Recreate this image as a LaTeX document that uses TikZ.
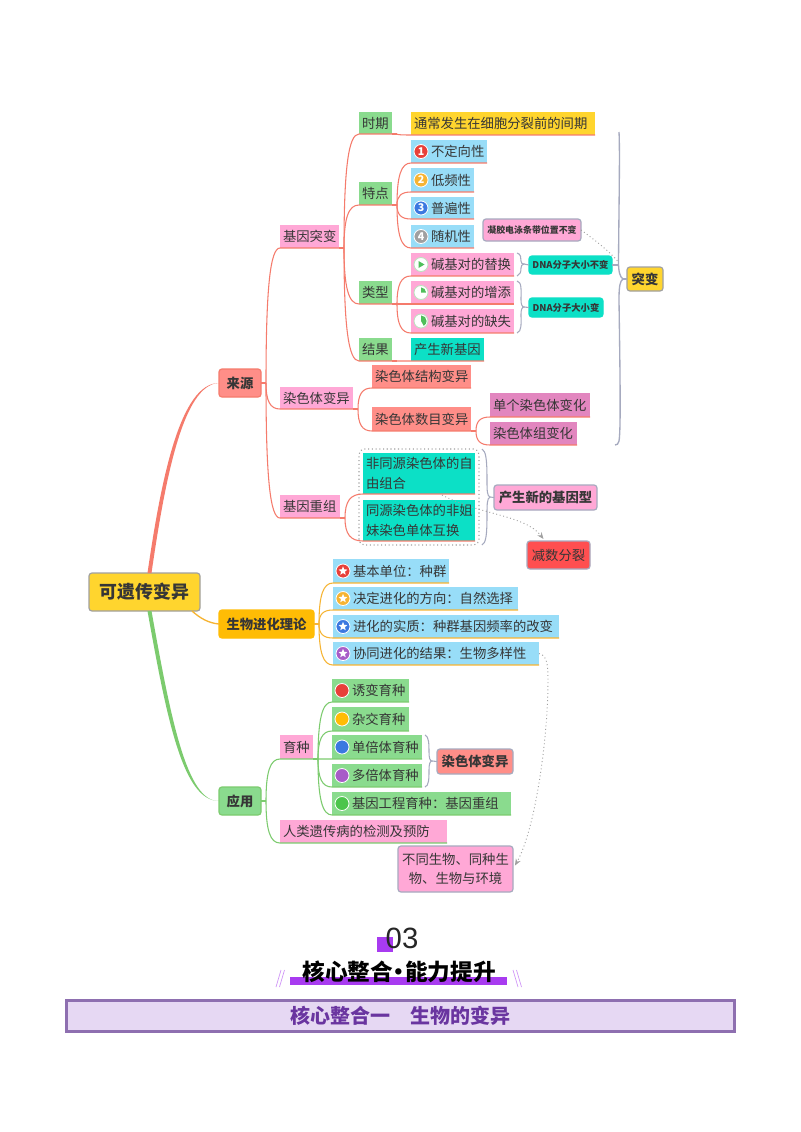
\documentclass[tikz,border=0pt]{standalone}
\usepackage{fontspec}
\setmainfont{Noto Sans CJK SC}
\newfontfamily\numfont{Liberation Sans}
\usetikzlibrary{calc,shapes.geometric,arrows.meta}
\definecolor{cPink}{HTML}{FFA8D6}
\definecolor{cGreen}{HTML}{8ADB8E}
\definecolor{cBlue}{HTML}{98DDF8}
\definecolor{cTeal}{HTML}{0CE0C6}
\definecolor{cSalmon}{HTML}{FF8E88}
\definecolor{cYellow}{HTML}{FFD52E}
\definecolor{cOrange}{HTML}{FFBC05}
\definecolor{cMag}{HTML}{E286BF}
\definecolor{cRed}{HTML}{FF4F50}
\definecolor{cLineR}{HTML}{F57B6C}
\definecolor{cLineO}{HTML}{F6B433}
\definecolor{cLineG}{HTML}{7CCB6E}
\definecolor{cBr}{HTML}{A6AABF}
\definecolor{cGray}{HTML}{A0A0A0}
\definecolor{cPurple}{HTML}{A83BF0}
\definecolor{cTxt}{HTML}{363636}
\definecolor{iRed}{HTML}{E8403A}
\definecolor{iBlue}{HTML}{3B78E0}
\definecolor{iViolet}{HTML}{A85CC8}
\definecolor{iGreen}{HTML}{4CC54C}
\definecolor{iPie}{HTML}{4FBF5A}
\definecolor{fFill}{HTML}{E6D8F3}
\definecolor{fLine}{HTML}{8E6FB0}
\definecolor{fText}{HTML}{6A35A0}
\tikzset{
 x=0.75pt,y=-0.75pt,
 base/.style={anchor=north west,inner ysep=0pt,inner xsep=2.3pt,outer sep=0pt,align=left,text=cTxt,
   font=\fontsize{10}{14.6}\selectfont},
 rbox/.style={rounded corners=2.2pt,align=center},
 gbox/.style={rbox,draw=#1,line width=0.9pt},
 conn/.style={line width=0.8pt},
 brk/.style={draw=cBr,line width=0.8pt},
 rel/.style={draw=cGray,line width=0.7pt,dotted},
 icn/.style={circle,draw=white,line width=0.6pt,minimum size=10.5pt,inner sep=0pt,outer sep=0pt},
 whitestar/.style={star,star points=5,star point ratio=2.3,fill=white,minimum size=7pt,inner sep=0pt},
}
\newcommand\bx[7]{%
 \pgfmathsetlengthmacro\tw{(#5-#3)*0.75-4.6}%
 \pgfmathsetlengthmacro\bh{(#6-#4)*0.75}%
 \node[base,text width=\tw,minimum height=\bh,#1] (#2) at (#3,#4) {#7};}
\newcommand\lnk[3]{%
 \draw[conn,#3] (#1) -- ++(5,0) coordinate (J);
 \coordinate (Jt) at (#2.south west);
 \coordinate (Ca) at ($(J)!0.7!(Jt)$);
 \coordinate (Cb) at ($(J)!0.3!(Jt)$);
 \draw[conn,#3] (J) .. controls (J |- Ca) and (Cb |- Jt) .. (Jt) -- (#2.south east);}
\newcommand\ic{\hspace*{12.7pt}}
\newcommand\numic[3]{\node[icn,fill=#2,text=white,font=\fontsize{8}{8}\bfseries\selectfont] (#1i) at ($(#1.west)+(10,0)$) {#3};}
\newcommand\staric[2]{\node[icn,fill=#2] (#1i) at ($(#1.west)+(10,0)$) {}; \node[whitestar] at (#1i) {};}
\newcommand\dotic[2]{\node[icn,fill=#2] (#1i) at ($(#1.west)+(10,0)$) {};}
\begin{document}
\begin{tikzpicture}
\useasboundingbox (0,0) rectangle (800,1132);
\fill[white] (0,0) rectangle (800,1132);
% dotted frame
\node[draw=cGray,line width=0.8pt,dotted,rounded corners=4pt,anchor=north west,inner sep=0pt,outer sep=0pt,minimum width=90pt,minimum height=72pt] (dotbox) at (359,449) {};
% root and first level
\bx{gbox=cGray,fill=cYellow,font=\fontsize{13.4}{16}\bfseries\selectfont}{root}{89}{573}{200}{611}{可遗传变异}
\bx{gbox=cLineR,fill=cSalmon,font=\fontsize{10}{12}\bfseries\selectfont}{ly}{219}{369}{261}{397}{来源}
\bx{gbox=cOrange,fill=cOrange,font=\fontsize{10}{12}\bfseries\selectfont}{jh}{219}{610}{314}{638}{生物进化理论}
\bx{gbox=cLineG,fill=cGreen,font=\fontsize{10}{12}\bfseries\selectfont}{yy}{219}{787}{261}{815}{应用}
% source branch
\bx{fill=cPink}{jb}{280}{225}{339}{248}{基因突变}
\bx{fill=cPink}{rs}{280}{387}{353}{409}{染色体变异}
\bx{fill=cPink}{cz}{280}{495}{340}{518}{基因重组}
\bx{fill=cGreen}{sq}{359}{112}{392}{134}{时期}
\bx{fill=cGreen}{td}{359}{182}{392}{205}{特点}
\bx{fill=cGreen}{lx}{359}{281}{392}{304}{类型}
\bx{fill=cGreen}{jg}{359}{338}{392}{361}{结果}
\bx{fill=cYellow}{tc}{411}{112}{595}{135}{通常发生在细胞分裂前的间期}
\bx{fill=cBlue}{t1}{411}{140}{487}{163}{\ic 不定向性}
\bx{fill=cBlue}{t2}{411}{168}{474}{192}{\ic 低频性}
\bx{fill=cBlue}{t3}{411}{197}{474}{219}{\ic 普遍性}
\bx{fill=cBlue}{t4}{411}{225}{474}{248}{\ic 随机性}
\bx{fill=cPink}{x1}{411}{253}{514}{276}{\ic 碱基对的替换}
\bx{fill=cPink}{x2}{411}{281}{514}{304}{\ic 碱基对的增添}
\bx{fill=cPink}{x3}{411}{309}{514}{333}{\ic 碱基对的缺失}
\bx{fill=cTeal}{cs}{411}{338}{484}{361}{产生新基因}
\bx{gbox=cBr,fill=cPink,font=\fontsize{6.7}{8}\bfseries\selectfont}{nj}{483}{219}{581}{241}{凝胶电泳条带位置不变}
\bx{gbox=cTeal,fill=cTeal,font=\fontsize{7}{9}\bfseries\selectfont}{d1}{529}{256}{612}{274}{DNA分子大小不变}
\bx{gbox=cTeal,fill=cTeal,font=\fontsize{7}{9}\bfseries\selectfont}{d2}{529}{298}{603}{317}{DNA分子大小变}
\bx{gbox=cGray,fill=cYellow,font=\fontsize{10}{12}\bfseries\selectfont}{tb}{627}{267}{663}{291}{突变}
\bx{fill=cSalmon}{r1}{372}{365}{471}{388}{染色体结构变异}
\bx{fill=cSalmon}{r2}{372}{407}{471}{431}{染色体数目变异}
\bx{fill=cMag}{m1}{490}{393}{590}{417}{单个染色体变化}
\bx{fill=cMag}{m2}{490}{422}{577}{445}{染色体组变化}
\bx{fill=cTeal}{c1}{363}{453}{475}{494}{非同源染色体的自\\由组合}
\bx{fill=cTeal}{c2}{363}{500}{475}{541}{同源染色体的非姐\\妹染色单体互换}
\bx{gbox=cBr,fill=cPink,font=\fontsize{10}{12}\bfseries\selectfont}{xj}{494}{485}{597}{510}{产生新的基因型}
\bx{gbox=cBr,fill=cRed}{js}{527}{541}{590}{569}{减数分裂}
% evolution branch
\bx{fill=cBlue}{e1}{333}{559}{449}{583}{\ic 基本单位：种群}
\bx{fill=cBlue}{e2}{333}{587}{518}{610}{\ic 决定进化的方向：自然选择}
\bx{fill=cBlue}{e3}{333}{615}{559}{638}{\ic 进化的实质：种群基因频率的改变}
\bx{fill=cBlue}{e4}{333}{642}{539}{665}{\ic 协同进化的结果：生物多样性}
% application branch
\bx{fill=cPink}{yz}{280}{735}{313}{759}{育种}
\bx{fill=cPink}{rl}{280}{820}{447}{843}{人类遗传病的检测及预防}
\bx{fill=cGreen}{y1}{332}{679}{409}{702}{\ic 诱变育种}
\bx{fill=cGreen}{y2}{332}{707}{409}{731}{\ic 杂交育种}
\bx{fill=cGreen}{y3}{332}{735}{422}{759}{\ic 单倍体育种}
\bx{fill=cGreen}{y4}{332}{764}{422}{787}{\ic 多倍体育种}
\bx{fill=cGreen}{y5}{332}{792}{511}{815}{\ic 基因工程育种：基因重组}
\bx{gbox=cBr,fill=cSalmon,font=\fontsize{10}{12}\bfseries\selectfont}{rb}{437}{749}{513}{774}{染色体变异}
\bx{gbox=cBr,fill=cPink}{bt}{398}{846}{513}{892}{不同生物、同种生\\物、生物与环境}
% root connectors
\fill[cLineR] ($(root.north)+(3,0)$) .. controls (161,480) and (180,383) .. (ly.west) .. controls (183,384) and (165,480) .. ($(root.north)+(7,0)$) -- cycle;
\draw[cLineO,line width=1pt] ($(root.south east)+(-8,0)$) .. controls (200,618) and (208,623) .. (jh.west);
\fill[cLineG] ($(root.south)+(3,0)$) .. controls (167,720) and (183,801) .. (yy.west) .. controls (187,802) and (171,720) .. ($(root.south)+(7,0)$) -- cycle;
% mind map branches
\lnk{ly.east}{jb}{cLineR}
\lnk{ly.east}{rs}{cLineR}
\lnk{ly.east}{cz}{cLineR}
\lnk{jb.south east}{sq}{cLineR}
\lnk{jb.south east}{td}{cLineR}
\lnk{jb.south east}{lx}{cLineR}
\lnk{jb.south east}{jg}{cLineR}
\lnk{sq.south east}{tc}{cLineR}
\lnk{td.south east}{t1}{cLineR}
\lnk{td.south east}{t2}{cLineR}
\lnk{td.south east}{t3}{cLineR}
\lnk{td.south east}{t4}{cLineR}
\lnk{lx.south east}{x1}{cLineR}
\lnk{lx.south east}{x2}{cLineR}
\lnk{lx.south east}{x3}{cLineR}
\lnk{jg.south east}{cs}{cLineR}
\lnk{rs.south east}{r1}{cLineR}
\lnk{rs.south east}{r2}{cLineR}
\lnk{r2.south east}{m1}{cLineR}
\lnk{r2.south east}{m2}{cLineR}
\lnk{cz.south east}{c1}{cLineR}
\lnk{cz.south east}{c2}{cLineR}
\lnk{jh.east}{e1}{cLineO}
\lnk{jh.east}{e2}{cLineO}
\lnk{jh.east}{e3}{cLineO}
\lnk{jh.east}{e4}{cLineO}
\lnk{yy.east}{yz}{cLineG}
\lnk{yy.east}{rl}{cLineG}
\lnk{yz.south east}{y1}{cLineG}
\lnk{yz.south east}{y2}{cLineG}
\lnk{yz.south east}{y3}{cLineG}
\lnk{yz.south east}{y4}{cLineG}
\lnk{yz.south east}{y5}{cLineG}
% icons
\numic{t1}{iRed}{1}
\numic{t2}{cLineO}{2}
\numic{t3}{iBlue}{3}
\numic{t4}{cGray}{4}
\staric{e1}{iRed}
\staric{e2}{cLineO}
\staric{e3}{iBlue}
\staric{e4}{iViolet}
\dotic{y1}{iRed}
\dotic{y2}{cOrange}
\dotic{y3}{iBlue}
\dotic{y4}{iViolet}
\dotic{y5}{iGreen}
\foreach \n in {x1,x2,x3}{\node[circle,draw=iPie!40,line width=0.6pt,fill=white,minimum size=10.5pt,inner sep=0pt,outer sep=0pt] (\n i) at ($(\n.west)+(10,0)$) {};}
\fill[iPie] ($(x1i.center)+(-2.5,-3.5)$) -- ($(x1i.center)+(-2.5,3.5)$) -- ($(x1i.center)+(3.5,0)$) -- cycle;
\fill[iPie] (x2i.center) -- ++(90:3.8pt) arc[start angle=90,end angle=0,radius=3.8pt] -- cycle;
\fill[iPie] (x3i.center) -- ++(90:4.2pt) arc[start angle=90,end angle=-60,radius=4.2pt] -- cycle;
% brackets
\draw[brk] (517,253) .. controls (521,254) and (521,258) .. (521,261) .. controls (521,263) and (522,264) .. (524,264) coordinate (b1) .. controls (522,264) and (521,266) .. (521,268) .. controls (521,272) and (520,275) .. (517,276);
\draw[brk] (b1) -- (d1.west);
\draw[brk] (517,281) .. controls (522,282) and (521,290) .. (521,300) .. controls (521,304) and (522,307) .. (524,307) coordinate (b2) .. controls (522,307) and (521,310) .. (521,314) .. controls (521,324) and (522,331) .. (517,333);
\draw[brk] (b2) -- (d2.west);
\draw[brk,line width=1pt] (619,132) .. controls (620,150) and (619,200) .. (618.5,262) .. controls (618.5,272) and (620,277) .. (623,279) coordinate (b3) .. controls (620,281) and (619,286) .. (619,300) .. controls (620,370) and (621,430) .. (619,441) .. controls (618.5,444) and (617,445) .. (615,445);
\draw[brk] (b3) -- (tb.west);
\draw[brk] (d1.east) -- (618.5,265);
\draw[brk] (482,449) .. controls (486,451) and (487,460) .. (487,480) .. controls (487,490) and (487,496) .. (490,497) coordinate (b4) .. controls (487,498) and (487,505) .. (487,515) .. controls (487,535) and (486,543) .. (482,545);
\draw[brk] (b4) -- (xj.west);
\draw[brk] (425,735) .. controls (429,736) and (429,745) .. (429,752) .. controls (429,758) and (430,761) .. (432,761) coordinate (b5) .. controls (430,761) and (429,764) .. (429,770) .. controls (429,778) and (429,786) .. (425,787);
\draw[brk] (b5) -- (rb.west);
% relationships
\draw[rel] (nj.east) .. controls (595,240) and (610,252) .. (618.5,262);
\draw[rel,-{Stealth[length=5pt,width=4pt]}] (442,495) .. controls (480,515) and (525,515) .. ($(js.north)+(-15,-2)$);
\draw[rel,-{Stealth[length=5pt,width=4pt]},shorten >=3pt] (e4.east) .. controls (547,655) and (548,665) .. (548,680) .. controls (548,740) and (535,830) .. (bt.east);
% heading
\fill[cPurple] (377,937) rectangle (393,952);
\node[font=\fontsize{22}{24}\numfont,text=black!85,inner sep=0pt] (no) at (402,938) {03};
\fill[cPurple] (290,977) rectangle (507,985);
\node[font=\fontsize{17}{20}\bfseries\selectfont,text=black,inner sep=0pt] (hd) at (399,972) {核心整合\kern-4pt·\kern-4pt能力提升};
\draw[cPurple!55,line width=0.5pt] (281,970) -- (276,987) (284.5,970) -- (279.5,987);
\draw[cPurple!55,line width=0.5pt] (513,970) -- (518,987) (516.5,970) -- (521.5,987);
\node[draw=fLine,fill=fFill,line width=2pt,minimum width=501pt,minimum height=23pt,inner sep=0pt,font=\fontsize{15}{18}\bfseries\selectfont,text=fText] (sec) at (400.5,1016) {核心整合一\hspace{1em}生物的变异};
\end{tikzpicture}
\end{document}
